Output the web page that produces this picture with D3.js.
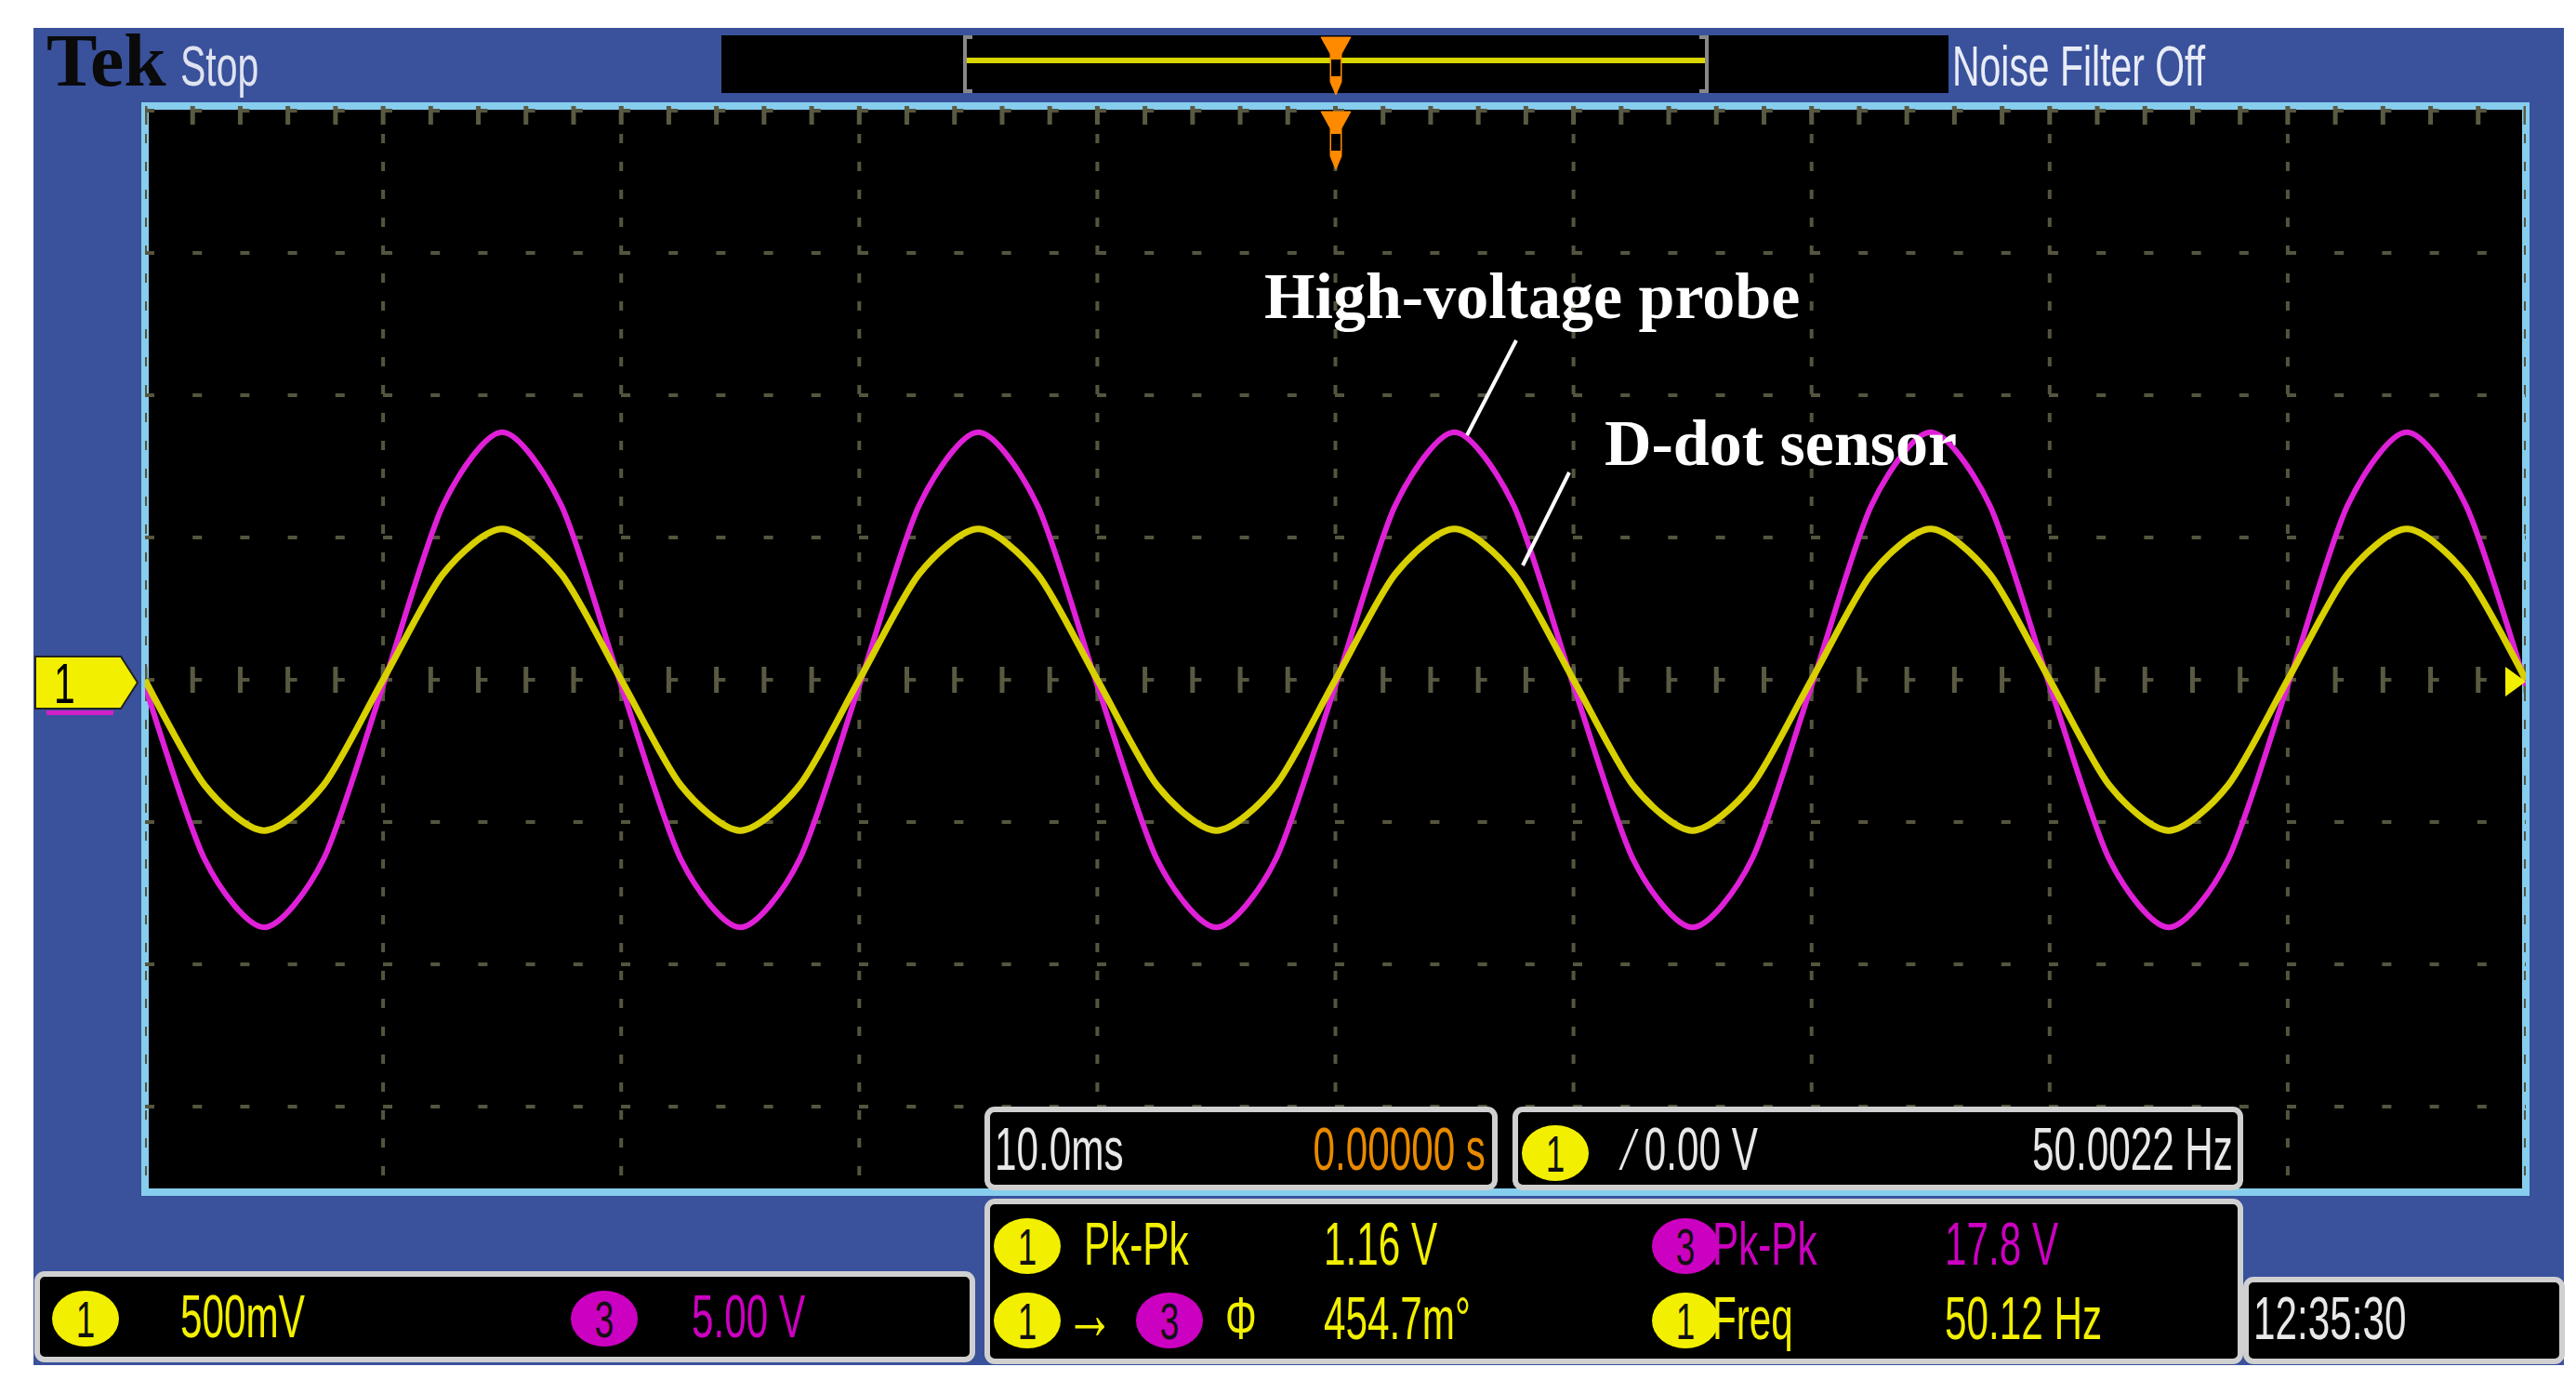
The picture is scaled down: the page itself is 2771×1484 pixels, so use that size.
<!DOCTYPE html>
<html><head><meta charset="utf-8">
<script src="https://cdn.jsdelivr.net/npm/d3@7"></script>
<style>body{margin:0;background:#fff}svg{display:block}</style>
</head><body>
<script>
// time in ms, 2.5 ms steps from -50 to 50
const times = d3.range(41).map(i => -50 + i * 2.5);
// ch1 D-dot sensor (V)
const ch1Volts = [0, -0.37, -0.53, -0.37, 0, 0.37, 0.53, 0.37,
  0, -0.37, -0.53, -0.37, 0, 0.37, 0.53, 0.37,
  0, -0.37, -0.53, -0.37, 0, 0.37, 0.53, 0.37,
  0, -0.37, -0.53, -0.37, 0, 0.37, 0.53, 0.37,
  0, -0.37, -0.53, -0.37, 0, 0.37, 0.53, 0.37, 0];
// ch3 high-voltage probe (V)
const ch3Volts = [-0.2, -6.3, -8.7, -6.3, -0.2, 6.1, 8.7, 6.1,
  -0.2, -6.3, -8.7, -6.3, -0.2, 6.1, 8.7, 6.1,
  -0.2, -6.3, -8.7, -6.3, -0.2, 6.1, 8.7, 6.1,
  -0.2, -6.3, -8.7, -6.3, -0.2, 6.1, 8.7, 6.1,
  -0.2, -6.3, -8.7, -6.3, -0.2, 6.1, 8.7, 6.1, -0.2];
const ch1PerDiv = 0.5;
const ch3PerDiv = 5;
const xDivs = d3.range(-5, 6);
const yDivs = d3.range(-4, 5);

const W = 2771, H = 1484;
const sans = '"Liberation Sans","DejaVu Sans",sans-serif';
const blue = '#3a519b';
const sx = 0.66; // scope font is very condensed

const svg = d3.select('body').append('svg').attr('width', W).attr('height', H);
svg.append('rect').attr('width', W).attr('height', H).attr('fill', '#fff');
svg.append('rect').attr('x', 36).attr('y', 30).attr('width', 2722).attr('height', 1438).attr('fill', blue);

function txt(tx, ty, s, color, anchor, size) {
  return svg.append('text').attr('transform', `translate(${tx},${ty}) scale(${sx},1)`)
    .text(s).attr('text-anchor', anchor || 'start')
    .attr('font-family', sans).attr('font-size', size || 64).attr('fill', color);
}

// top bar
svg.append('text').attr('transform', 'translate(50,92) scale(1.02,1)').text('Tek')
  .attr('font-family', '"Liberation Serif",serif').attr('font-weight', 'bold')
  .attr('font-size', 80).attr('fill', '#0a0a0a');
txt(194, 92, 'Stop', '#dfe3f0', 'start', 62);
svg.append('rect').attr('x', 776).attr('y', 38).attr('width', 1320).attr('height', 62).attr('fill', '#000');
svg.append('path').attr('d', 'M1046,40 h-8 v58 h8 M1828,40 h8 v58 h-8')
  .attr('stroke', '#888').attr('fill', 'none').attr('stroke-width', 4);
svg.append('line').attr('x1', 1040).attr('x2', 1834).attr('y1', 65).attr('y2', 65)
  .attr('stroke', '#d8d400').attr('stroke-width', 6);
txt(2100, 92, 'Noise Filter Off', '#e8ecf6', 'start', 62);

// graticule
const gx = 156, gy = 114, gw = 2561, gh = 1168;
const x = d3.scaleLinear().domain([-50, 50]).range([gx, gx + gw]);
const zeroY = 731, divH = 153;
const yDiv = d3.scaleLinear().domain([-4, 4]).range([zeroY + 4 * divH, zeroY - 4 * divH]);

svg.append('rect').attr('x', gx).attr('y', gy).attr('width', gw).attr('height', gh)
  .attr('fill', '#000').attr('stroke', '#86cdee').attr('stroke-width', 8);
svg.append('clipPath').attr('id', 'clip').append('rect')
  .attr('x', gx).attr('y', gy).attr('width', gw).attr('height', gh);
const g = svg.append('g').attr('clip-path', 'url(#clip)');

g.selectAll('.vl').data(xDivs).join('line')
  .attr('x1', d => x(d * 10)).attr('x2', d => x(d * 10))
  .attr('y1', gy).attr('y2', gy + gh)
  .attr('stroke', '#55553f').attr('stroke-width', 4).attr('stroke-dasharray', '10 20');
g.selectAll('.hl').data(yDivs).join('line')
  .attr('x1', gx).attr('x2', gx + gw)
  .attr('y1', d => yDiv(d)).attr('y2', d => yDiv(d))
  .attr('stroke', '#55553f').attr('stroke-width', 4).attr('stroke-dasharray', '10 41.2');
// centre-line ticks
const minor = d3.range(-50, 50.01, 2);
g.selectAll('.tk').data(minor).join('line')
  .attr('x1', d => x(d)).attr('x2', d => x(d))
  .attr('y1', zeroY - 14).attr('y2', zeroY + 14)
  .attr('stroke', '#5a5a42').attr('stroke-width', 5);
g.selectAll('.tkt').data(minor).join('line')
  .attr('x1', d => x(d)).attr('x2', d => x(d))
  .attr('y1', gy).attr('y2', gy + 20)
  .attr('stroke', '#5a5a42').attr('stroke-width', 5);

// traces
const line = d3.line().curve(d3.curveCardinal.tension(0.2));
g.append('path')
  .attr('d', line(times.map((t, i) => [x(t), yDiv(ch3Volts[i] / ch3PerDiv)])))
  .attr('fill', 'none').attr('stroke', '#e020d8').attr('stroke-width', 6);
g.append('path')
  .attr('d', line(times.map((t, i) => [x(t), yDiv(ch1Volts[i] / ch1PerDiv)])))
  .attr('fill', 'none').attr('stroke', '#d8d000').attr('stroke-width', 7);

// trigger position markers
[[1437, 40], [1437, 120]].forEach(([mx, my]) => {
  svg.append('path')
    .attr('d', `M${mx - 16},${my} h32 l-10,18 v30 l-6,14 l-6,-14 v-30 z`)
    .attr('fill', '#ff8a00').attr('stroke', '#ff8a00');
  svg.append('rect').attr('x', mx - 5).attr('y', my + 24).attr('width', 10).attr('height', 18).attr('fill', '#000');
});

// ch1 level marker
svg.append('path').attr('d', 'M38,706 h92 l18,28 l-18,28 h-92 z')
  .attr('fill', '#f2f000').attr('stroke', '#222').attr('stroke-width', 2);
txt(58, 756, '1', '#000', 'start', 62);
svg.append('rect').attr('x', 50).attr('y', 764).attr('width', 72).attr('height', 5).attr('fill', '#d020c8');
svg.append('path').attr('d', 'M2717,733 l-22,-16 v32 z').attr('fill', '#f2f000');

// readout boxes
function box(x0, y0, w, h) {
  svg.append('rect').attr('x', x0).attr('y', y0).attr('width', w).attr('height', h)
    .attr('rx', 8).attr('fill', '#000').attr('stroke', '#d0d0d0').attr('stroke-width', 6);
}
function badge(cx, cy, label, color) {
  svg.append('ellipse').attr('cx', cx).attr('cy', cy).attr('rx', 36).attr('ry', 30).attr('fill', color);
  txt(cx, cy + 20, label, '#111', 'middle', 56);
}
const yel = '#f2f000', mag = '#cc00c0';

box(1062, 1193, 546, 84);
txt(1070, 1258, '10.0ms', '#e8e8e8');
txt(1598, 1258, '0.00000 s', '#e88a00', 'end');
box(1630, 1193, 780, 84);
badge(1673, 1240, '1', yel);
txt(1750, 1258, '\u2215 0.00 V', '#e8e8e8');
txt(2402, 1258, '50.0022 Hz', '#e8e8e8', 'end');

box(1062, 1292, 1348, 172);
badge(1105, 1340, '1', yel);
txt(1166, 1360, 'Pk-Pk', yel);
txt(1424, 1360, '1.16 V', yel);
badge(1813, 1340, '3', mag);
txt(1842, 1360, 'Pk-Pk', mag);
txt(2092, 1360, '17.8 V', mag);
badge(1105, 1420, '1', yel);
txt(1146, 1440, '\u2192', yel, 'start', 80);
badge(1258, 1420, '3', mag);
txt(1318, 1440, '\u03a6', yel);
txt(1424, 1440, '454.7m\u00b0', yel);
badge(1813, 1420, '1', yel);
txt(1842, 1440, 'Freq', yel);
txt(2092, 1440, '50.12 Hz', yel);

box(40, 1370, 1006, 92);
badge(92, 1418, '1', yel);
txt(194, 1438, '500mV', yel);
badge(650, 1418, '3', mag);
txt(744, 1438, '5.00 V', mag);
box(2416, 1376, 340, 88);
txt(2424, 1440, '12:35:30', '#e8e8e8');

// annotations
const serif = '"Liberation Serif","Times New Roman",serif';
svg.append('text').attr('x', 1360).attr('y', 342).text('High-voltage probe')
  .attr('font-family', serif).attr('font-weight', 'bold').attr('font-size', 70).attr('fill', '#fff');
svg.append('text').attr('x', 1726).attr('y', 500).text('D-dot sensor')
  .attr('font-family', serif).attr('font-weight', 'bold').attr('font-size', 70).attr('fill', '#fff');
svg.append('line').attr('x1', 1631).attr('y1', 366).attr('x2', 1578).attr('y2', 468)
  .attr('stroke', '#fff').attr('stroke-width', 4);
svg.append('line').attr('x1', 1688).attr('y1', 508).attr('x2', 1638).attr('y2', 608)
  .attr('stroke', '#fff').attr('stroke-width', 4);
</script>
</body></html>
